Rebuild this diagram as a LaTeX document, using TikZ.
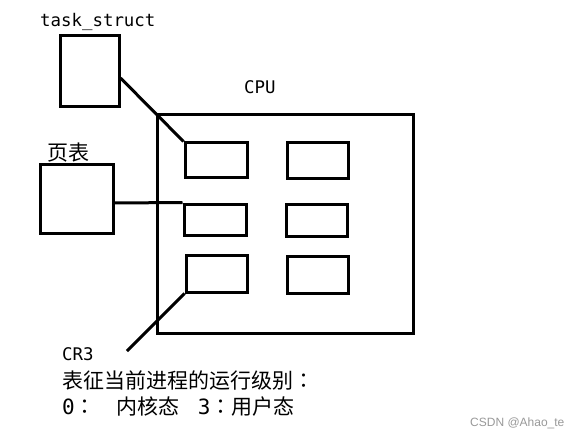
\documentclass[tikz,border=0pt]{standalone}
\usepackage{fontspec}
\newfontfamily\cjk{Noto Sans CJK SC}
\newfontfamily\cjktc{Noto Sans CJK TC}
\newfontfamily\mono{DejaVu Sans Mono}
\newfontfamily\wmfont{Liberation Sans}
\newcommand{\fwcolon}{{\cjktc ：}}
\begin{document}
\begin{tikzpicture}[x=1pt,y=-1pt,
  boxx/.style={draw=black,line width=3pt,inner sep=0pt,fill=none},
  lnk/.style={draw=black,line width=3pt},
  latin/.style={inner sep=0pt,anchor=base west,font=\mono\fontsize{17.4}{20}\selectfont},
  han/.style={inner sep=0pt,anchor=base west,font=\cjk\fontsize{21}{25}\selectfont},
]
\useasboundingbox[fill=white] (0,0) rectangle (577,438);
% boxes
\node[boxx,minimum width=59pt,minimum height=71pt] (ts) at (89.5,71.5) {};
\node[boxx,minimum width=73pt,minimum height=68pt] (pt) at (76.5,199) {};
\node[boxx,minimum width=256pt,minimum height=218pt] (cpu) at (285,224) {};
\node[boxx,minimum width=62pt,minimum height=35pt] (r11) at (216,160.5) {};
\node[boxx,minimum width=61pt,minimum height=36pt] (r12) at (317.5,161) {};
\node[boxx,minimum width=62pt,minimum height=31pt] (r21) at (215,219.5) {};
\node[boxx,minimum width=61pt,minimum height=32pt] (r22) at (316.5,220) {};
\node[boxx,minimum width=61pt,minimum height=37pt] (r31) at (216.5,273.5) {};
\node[boxx,minimum width=61pt,minimum height=37pt] (r32) at (317.5,274.5) {};
% labels
\node[latin] (tslab) at (40,27) {task\_struct};
\node[latin] (cpulab) at (244,94) {CPU};
\node[han] (ptlab) at (47,161) {页表};
\node[latin] (cr3lab) at (62,360) {CR3};
\node[han] (desc1) at (62,388) {表征当前进程的运行级别\fwcolon};
\node[han] (desc2) at (62,414) {{\mono 0}\fwcolon\hspace{21pt}内核态\hspace{18pt}{\mono 3}\fwcolon 用户态};
\node[inner sep=0pt,anchor=base west,text=black!40,font=\wmfont\fontsize{12}{14}\selectfont] (wm) at (470,426) {CSDN @Ahao\_te};
% connectors
\coordinate (cr3end) at (127,351);
\draw[lnk] ([yshift=-6.5pt]ts.east) -- (r11.north west);
\draw[lnk] ([yshift=-4pt]pt.east) -- (r21.north west);
\draw[lnk] (r31.south west) -- (cr3end);
\end{tikzpicture}
\end{document}
